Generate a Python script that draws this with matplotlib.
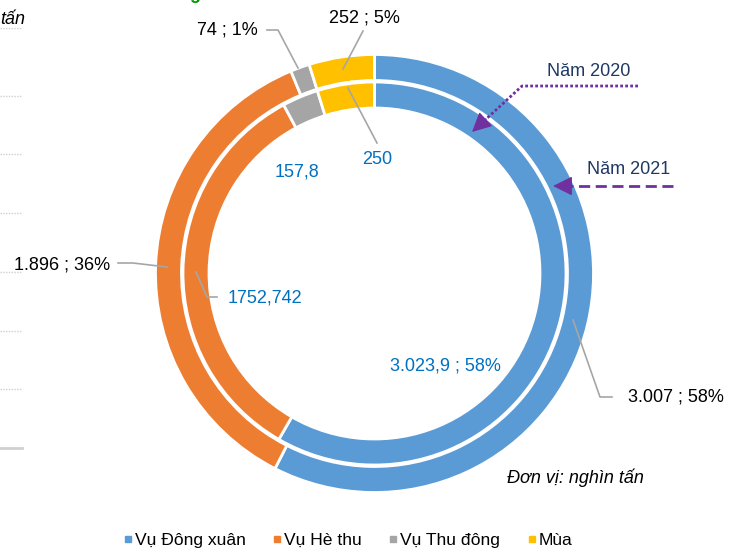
import matplotlib
matplotlib.use("Agg")
import matplotlib.pyplot as plt
from matplotlib.lines import Line2D

plt.rcParams['font.family'] = ['Liberation Sans', 'DejaVu Sans']

# Sản lượng lúa theo mùa vụ (nghìn tấn)
seasons = ["Vụ Đông xuân", "Vụ Hè thu", "Vụ Thu đông", "Mùa"]
colors = ["#5B9BD5", "#ED7D31", "#A5A5A5", "#FFC000"]
output_2021 = [3007, 1896, 74, 252]            # outer ring
output_2020 = [3023.9, 1752.742, 157.8, 250]   # inner ring
labels_2021 = ["3.007 ; 58%", "1.896 ; 36%", "74 ; 1%", "252 ; 5%"]
labels_2020 = ["3.023,9 ; 58%", "1752,742", "157,8", "250"]

W, H = 731, 548
fig = plt.figure(figsize=(W / 100, H / 100), dpi=100)
ax = fig.add_axes([0, 0, 1, 1])


def P(x, y):
    # picture pixel (y down) -> axes data (y up)
    return x, H - y


def PL(pts):
    xs = [p[0] for p in pts]
    ys = [H - p[1] for p in pts]
    return xs, ys


cx, cy = P(374.5, 273.5)
wp = dict(width=26, edgecolor="white", linewidth=2)
ax.pie(output_2021, radius=219, center=(cx, cy), startangle=90,
       counterclock=False, colors=colors, wedgeprops=wp)
ax.pie(output_2020, radius=191.5, center=(cx, cy), startangle=90,
       counterclock=False, colors=colors, wedgeprops=wp)
ax.set_xlim(0, W)
ax.set_ylim(0, H)
ax.set_aspect('equal')
ax.axis('off')

lead = "#A6A6A6"
fs = 13

# outer ring labels (2021)
outer_pos = [(628, 397, 'left'), (110, 265, 'right'), (258, 30, 'right'), (364, 18, 'center')]
outer_lines = [[(573, 320), (600, 397), (612, 397)],
               [(167, 267), (133, 263), (118, 263)],
               [(298, 68), (278, 30), (267, 30)],
               [(343, 69), (363, 31)]]
for lab, (x, y, ha), pts in zip(labels_2021, outer_pos, outer_lines):
    ax.text(*P(x, y), lab, ha=ha, va='center', fontsize=fs, color='black')
    ax.plot(*PL(pts), color=lead, lw=1.2)

# inner ring labels (2020)
inner_pos = [(390, 366, 'left'), (228, 298, 'left'), (275, 172, 'left'), (362, 159, 'left')]
inner_lines = [None,
               [(196, 272), (207, 297), (217, 297)],
               None,
               [(348, 88), (377, 143)]]
for lab, (x, y, ha), pts in zip(labels_2020, inner_pos, inner_lines):
    ax.text(*P(x, y), lab, ha=ha, va='center', fontsize=fs, color='#0070C0')
    if pts:
        ax.plot(*PL(pts), color=lead, lw=1.2)

# year call-outs
purple = "#7030A0"
navy = "#1F3864"
ax.text(*P(589, 72), "Năm 2020", ha='center', va='center', fontsize=fs, color=navy)
ax.plot(*PL([(638, 86), (522, 86), (484, 121)]), color=purple, lw=2, ls=(0, (1, 0.8)))
ax.annotate('', xy=P(472, 132), xytext=P(486, 119),
            arrowprops=dict(arrowstyle='-|>,head_length=0.6,head_width=0.3',
                            color=purple, lw=1, mutation_scale=20,
                            shrinkA=0, shrinkB=0))

ax.text(*P(629, 169), "Năm 2021", ha='center', va='center', fontsize=fs, color=navy)
ax.plot(*PL([(673, 186), (566, 186)]), color=purple, lw=2, ls=(0, (4, 2)))
ax.annotate('', xy=P(553, 186), xytext=P(570, 186),
            arrowprops=dict(arrowstyle='-|>,head_length=0.6,head_width=0.3',
                            color=purple, lw=1, mutation_scale=20,
                            shrinkA=0, shrinkB=0))

ax.text(*P(507, 478), "Đơn vị: nghìn tấn", ha='left', va='center',
        fontsize=fs, style='italic', color='black')

# clipped remains of neighbouring chart on the left edge
gx = fig.add_axes([0, (H - 448) / H, 22 / W, (448 - 28) / H])
gx.set_ylim(0, 7.15)
gx.set_yticks([1, 2, 3, 4, 5, 6, 7.15])
gx.set_xticks([])
gx.tick_params(length=0, labelleft=False)
gx.grid(axis='y', color='#CFCFCF', lw=1, ls=(0, (1, 1)))
for s in ['top', 'left', 'right']:
    gx.spines[s].set_visible(False)
gx.spines['bottom'].set_color('#D0D0D0')
gx.spines['bottom'].set_linewidth(2)
gx.patch.set_alpha(0)
fig.text(25 / W, 1 - 20 / H, "tấn", ha='right', va='center', fontsize=fs, style='italic')
fig.text(195 / W, 1 + 1 / H, "g", ha='center', va='baseline', fontsize=fs,
         fontweight='bold', color='#009A00')

# legend
handles = [Line2D([], [], marker='s', ls='', color=c, markersize=5) for c in colors]
fig.legend(handles, seasons, loc='center', bbox_to_anchor=(348 / W, 1 - 540 / H),
           ncol=4, frameon=False, fontsize=12.6, handlelength=0.5, handletextpad=0.15,
           columnspacing=1.55, borderpad=0, borderaxespad=0)

fig.savefig("out.png", dpi=100)
